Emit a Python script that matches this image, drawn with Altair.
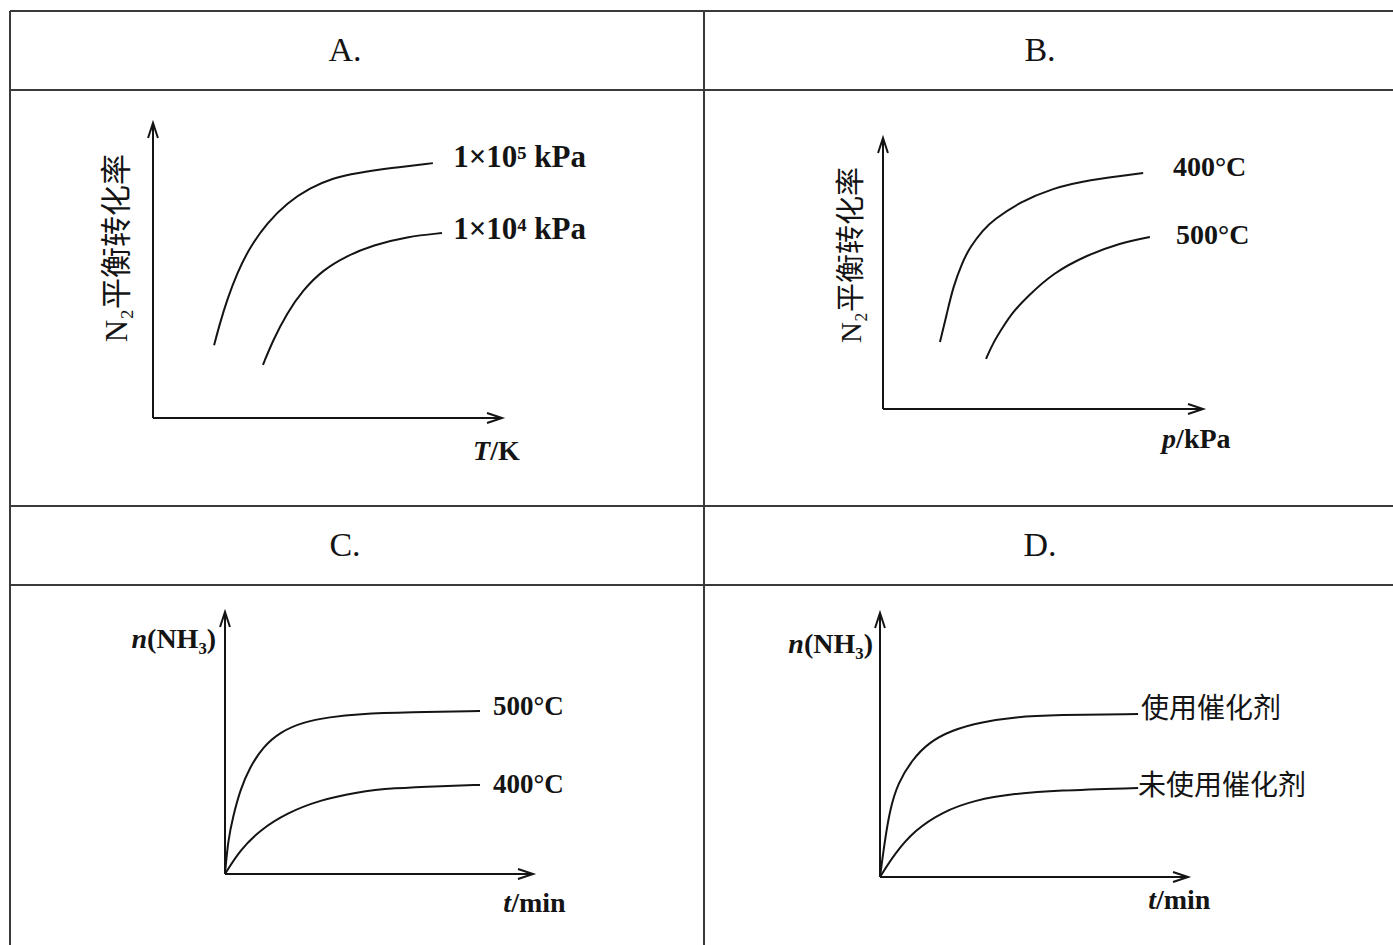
import altair as alt
import pandas as pd

W, H = 1393, 945
SERIF = "Liberation Serif"
CJK = "Noto Sans CJK SC"
INK = "#141414"
GRID = "#3a3a3a"

# ---- table frame (pixel units) ----
col_edges = [10, 704]
row_edges = [11, 90, 506, 585]
table_bottom = 945
table_right = 1393
header_text = ["A.", "B.", "C.", "D."]
header_x = [345, 1040, 345, 1040]
header_y = [51, 51, 546, 546]

# ---- panel A: N2 conversion vs T ----
a_hi_x = [1.75, 1.92, 2.12, 2.41, 2.78, 3.27, 3.84, 4.50, 5.16, 5.85, 6.79, 8.02]
a_hi_y = [2.47, 3.22, 4.00, 4.92, 5.80, 6.61, 7.29, 7.80, 8.14, 8.31, 8.47, 8.64]
a_lo_x = [3.15, 3.44, 3.84, 4.30, 4.87, 5.56, 6.30, 7.28, 8.28]
a_lo_y = [1.80, 2.64, 3.56, 4.34, 5.02, 5.50, 5.86, 6.15, 6.27]

# ---- panel B: N2 conversion vs p ----
b_400_x = [1.78, 2.00, 2.19, 2.47, 2.72, 3.13, 3.44, 4.28, 5.31, 6.38, 8.13]
b_400_y = [2.47, 3.54, 4.50, 5.39, 5.98, 6.61, 6.97, 7.64, 8.15, 8.45, 8.71]
b_500_x = [3.22, 3.44, 3.75, 4.06, 4.50, 5.31, 6.38, 7.41, 8.34]
b_500_y = [1.85, 2.44, 3.03, 3.58, 4.13, 5.02, 5.68, 6.13, 6.35]

# ---- panel C: n(NH3) vs t at two temperatures ----
c_500_x = [0, 0.10, 0.26, 0.49, 0.81, 1.23, 1.79, 2.53, 3.41, 4.29, 6.01, 8.28]
c_500_y = [0, 1.30, 2.18, 3.21, 4.08, 4.85, 5.42, 5.80, 5.99, 6.11, 6.18, 6.22]
c_400_x = [0, 0.49, 1.14, 2.01, 3.08, 4.29, 5.45, 7.08, 8.28]
c_400_y = [0, 0.92, 1.68, 2.33, 2.82, 3.13, 3.28, 3.36, 3.40]

# ---- panel D: n(NH3) vs t with / without catalyst ----
d_cat_x = [0, 0.16, 0.32, 0.58, 1.04, 1.56, 2.34, 3.31, 4.38, 5.71, 8.38]
d_cat_y = [0, 1.40, 2.54, 3.56, 4.43, 5.08, 5.57, 5.87, 6.06, 6.14, 6.17]
d_no_x = [0, 0.49, 1.14, 2.01, 3.08, 4.38, 5.71, 8.38]
d_no_y = [0, 0.91, 1.78, 2.46, 2.92, 3.16, 3.28, 3.37]

ARROW = "M-1,-0.33L0,0L-1,0.33"


def table_layer():
    xs = alt.Scale(domain=[0, W], range=[0, W], nice=False, zero=False)
    ys = alt.Scale(domain=[0, H], range=[0, H], nice=False, zero=False)
    hl = pd.DataFrame({"y": row_edges, "x": [col_edges[0]] * len(row_edges),
                       "x2": [table_right] * len(row_edges)})
    vl = pd.DataFrame({"x": col_edges, "y": [row_edges[0]] * len(col_edges),
                       "y2": [table_bottom] * len(col_edges)})
    hd = pd.DataFrame({"t": header_text, "x": header_x, "y": header_y})
    h = alt.Chart(hl).mark_rule(color=GRID, strokeWidth=2).encode(
        x=alt.X("x:Q", scale=xs, axis=None), x2="x2:Q",
        y=alt.Y("y:Q", scale=ys, axis=None))
    v = alt.Chart(vl).mark_rule(color=GRID, strokeWidth=2).encode(
        x=alt.X("x:Q", scale=xs, axis=None),
        y=alt.Y("y:Q", scale=ys, axis=None), y2="y2:Q")
    t = alt.Chart(hd).mark_text(font=SERIF, fontSize=34, color=INK,
                                align="center", baseline="middle").encode(
        x=alt.X("x:Q", scale=xs, axis=None),
        y=alt.Y("y:Q", scale=ys, axis=None), text="t:N")
    return alt.layer(h, v, t)


def panel(xr, yr, curves, labels):
    xs = alt.Scale(domain=[0, 10], range=xr, nice=False, zero=False)
    ys = alt.Scale(domain=[0, 10], range=yr, nice=False, zero=False)

    def enc(ch):
        return ch.encode(x=alt.X("x:Q", scale=xs, axis=None),
                         y=alt.Y("y:Q", scale=ys, axis=None))

    axes = pd.DataFrame({"x": [0, 0], "y": [0, 0], "x2": [10, 0], "y2": [0, 10]})
    layers = [
        alt.Chart(axes).mark_rule(color=INK, strokeWidth=2).encode(
            x=alt.X("x:Q", scale=xs, axis=None), x2="x2:Q",
            y=alt.Y("y:Q", scale=ys, axis=None), y2="y2:Q"),
    ]
    tips = pd.DataFrame({"x": [10, 0], "y": [0, 10], "a": [0, 270]})
    layers.append(
        alt.Chart(tips).mark_point(shape=ARROW, size=900, filled=False,
                                   stroke=INK, strokeWidth=2, opacity=1).encode(
            x=alt.X("x:Q", scale=xs, axis=None),
            y=alt.Y("y:Q", scale=ys, axis=None),
            angle=alt.Angle("a:Q", scale=None)))
    rows = []
    for name, cx, cy in curves:
        rows += [{"s": name, "x": a, "y": b} for a, b in zip(cx, cy)]
    layers.append(
        alt.Chart(pd.DataFrame(rows)).mark_line(
            color=INK, strokeWidth=2, interpolate="basis").encode(
            x=alt.X("x:Q", scale=xs, axis=None),
            y=alt.Y("y:Q", scale=ys, axis=None), detail="s:N"))
    for lb in labels:
        df = pd.DataFrame([{"t": lb["t"], "x": lb["x"], "y": lb["y"]}])
        mk = dict(font=lb.get("font", SERIF), fontSize=lb["size"],
                  fontWeight=lb.get("weight", "bold"),
                  fontStyle=lb.get("style", "normal"),
                  align=lb.get("align", "left"), baseline="middle", color=INK)
        if "angle" in lb:
            mk["angle"] = lb["angle"]
        layers.append(enc(alt.Chart(df).mark_text(**mk)).encode(text="t:N"))
    return alt.layer(*layers)


def ytitle(x, y, size):
    return {"t": "N₂平衡转化率", "x": x, "y": y, "size": size, "align": "center",
            "angle": 270, "weight": "normal", "font": f"{SERIF}, {CJK}"}


pA = panel([153, 502], [418, 123],
           [("1e5", a_hi_x, a_hi_y), ("1e4", a_lo_x, a_lo_y)],
           [{"t": "1×10⁵ kPa", "x": 8.60, "y": 8.81, "size": 31},
            {"t": "1×10⁴ kPa", "x": 8.60, "y": 6.37, "size": 31},
            {"t": "T", "x": 9.66, "y": -1.15, "size": 28, "style": "italic", "align": "right"},
            {"t": "/K", "x": 9.66, "y": -1.15, "size": 28},
            ytitle(-1.0, 5.76, 31)])

pB = panel([883, 1203], [409, 138],
           [("400", b_400_x, b_400_y), ("500", b_500_x, b_500_y)],
           [{"t": "400°C", "x": 9.06, "y": 8.89, "size": 28},
            {"t": "500°C", "x": 9.16, "y": 6.38, "size": 28},
            {"t": "p", "x": 9.16, "y": -1.14, "size": 28, "style": "italic", "align": "right"},
            {"t": "/kPa", "x": 9.16, "y": -1.14, "size": 28},
            ytitle(-0.97, 5.68, 29)])

pC = panel([225, 533], [874, 612],
           [("500", c_500_x, c_500_y), ("400", c_400_x, c_400_y)],
           [{"t": "500°C", "x": 8.70, "y": 6.37, "size": 27},
            {"t": "400°C", "x": 8.70, "y": 3.40, "size": 27},
            {"t": "n", "x": -2.53, "y": 8.93, "size": 28, "style": "italic", "align": "right"},
            {"t": "(NH₃)", "x": -2.53, "y": 8.93, "size": 28},
            {"t": "t", "x": 9.29, "y": -1.15, "size": 28, "style": "italic", "align": "right"},
            {"t": "/min", "x": 9.29, "y": -1.15, "size": 28}])

pD = panel([880, 1188], [877, 613],
           [("cat", d_cat_x, d_cat_y), ("none", d_no_x, d_no_y)],
           [{"t": "使用催化剂", "x": 8.47, "y": 6.33, "size": 28, "font": CJK, "weight": "normal"},
            {"t": "未使用催化剂", "x": 8.38, "y": 3.41, "size": 28, "font": CJK, "weight": "normal"},
            {"t": "n", "x": -2.47, "y": 8.79, "size": 28, "style": "italic", "align": "right"},
            {"t": "(NH₃)", "x": -2.47, "y": 8.79, "size": 28},
            {"t": "t", "x": 8.96, "y": -0.91, "size": 28, "style": "italic", "align": "right"},
            {"t": "/min", "x": 8.96, "y": -0.91, "size": 28}])

chart = alt.layer(table_layer(), pA, pB, pC, pD).resolve_scale(
    x="independent", y="independent"
).properties(
    width=W, height=H, padding=0, autosize="none", background="white"
).configure_view(stroke=None)

chart.save("out.html", embed_options={"renderer": "svg", "actions": False})
